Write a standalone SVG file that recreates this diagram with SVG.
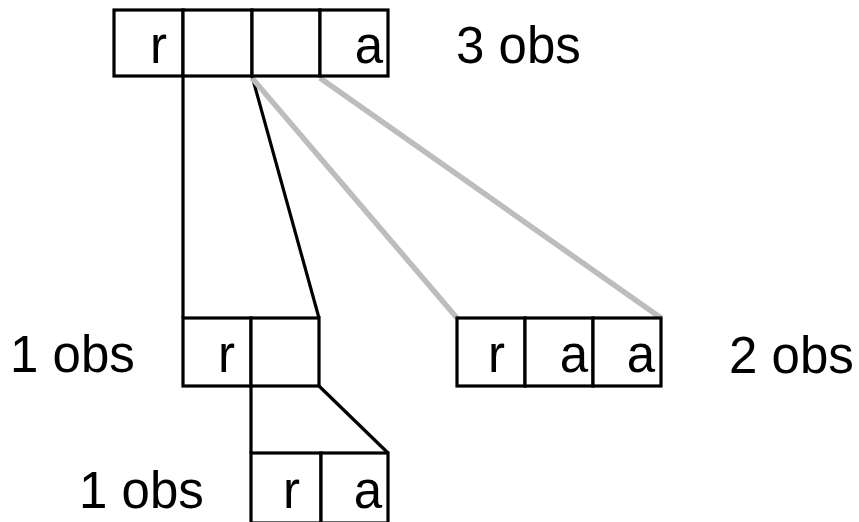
<svg xmlns="http://www.w3.org/2000/svg" width="859" height="522" viewBox="0 0 859 522">
<style>
.cell{fill:#fff;stroke:#000;stroke-width:3.2}
.t{font-family:"Liberation Sans",Arial,sans-serif;font-size:51px;fill:#000}
.c{text-anchor:end}
.blk{stroke:#000;stroke-width:3.2;fill:none}
.gry{stroke:#bdbdbd;stroke-width:5.5;fill:none}
</style>
<rect width="859" height="522" fill="#fff"/>
<g id="connectors">
<line class="blk" x1="183" y1="76" x2="183" y2="318"/>
<line class="blk" x1="252" y1="76" x2="319" y2="318"/>
<line class="gry" x1="252" y1="78" x2="457" y2="318"/>
<line class="gry" x1="320" y1="78" x2="661" y2="318"/>
<line class="blk" x1="251" y1="386" x2="251" y2="453"/>
<line class="blk" x1="319" y1="386" x2="388" y2="453"/>
</g>
<g id="top">
<rect class="cell" x="114" y="10" width="69" height="66"/>
<rect class="cell" x="183" y="10" width="69" height="66"/>
<rect class="cell" x="252" y="10" width="68" height="66"/>
<rect class="cell" x="320" y="10" width="68" height="66"/>
<text class="t c" x="167" y="63">r</text>
<text class="t c" x="383" y="63">a</text>
<text class="t" x="456" y="63">3 obs</text>
</g>
<g id="mid-left">
<rect class="cell" x="183" y="318" width="68" height="68"/>
<rect class="cell" x="251" y="318" width="68" height="68"/>
<text class="t c" x="235" y="372">r</text>
<text class="t" x="10" y="372">1 obs</text>
</g>
<g id="mid-right">
<rect class="cell" x="457" y="318" width="68" height="68"/>
<rect class="cell" x="525" y="318" width="68" height="68"/>
<rect class="cell" x="593" y="318" width="68" height="68"/>
<text class="t c" x="505" y="372">r</text>
<text class="t c" x="588" y="372">a</text>
<text class="t c" x="655" y="372">a</text>
<text class="t" x="729" y="373">2 obs</text>
</g>
<g id="bottom">
<rect class="cell" x="251" y="453" width="70" height="70"/>
<rect class="cell" x="321" y="453" width="67" height="70"/>
<text class="t c" x="300" y="508">r</text>
<text class="t c" x="382" y="508">a</text>
<text class="t" x="79" y="508">1 obs</text>
</g>
</svg>
